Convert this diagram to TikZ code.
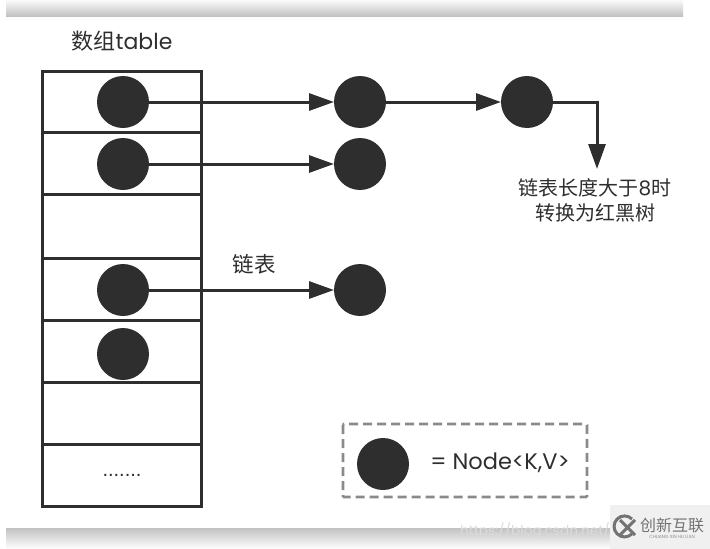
\documentclass[tikz,border=0pt]{standalone}
\usepackage{fontspec}
\usepackage{xcolor}
\setmainfont{Poppins}
\newfontfamily\cjk{Noto Sans CJK SC}
\newfontfamily\dotfont{Liberation Sans}
\usetikzlibrary{arrows.meta,positioning}
\definecolor{inkdark}{HTML}{2E2E2E}
\definecolor{dashgray}{HTML}{8A8A8A}
\tikzset{
    slotbox/.style={draw=inkdark, line width=3pt, minimum width=159pt, inner sep=0pt, outer sep=0pt},
    entrydot/.style={circle, fill=inkdark, minimum size=52pt, inner sep=0pt, outer sep=0pt},
    linkarrow/.style={draw=inkdark, line width=3pt, -{Triangle[length=25pt,width=17pt]}},
    caption/.style={text=inkdark, font=\fontsize{20}{25}\selectfont\cjk, align=center, inner sep=0pt},
    plainlabel/.style={text=inkdark, font=\fontsize{22.5}{26}\selectfont\rmfamily, inner sep=0pt},
}
\begin{document}
\begin{tikzpicture}[x=1pt,y=-1pt]
    \useasboundingbox (0,0) rectangle (710,549);
    % page shadows
    \shade[top color=black!2, middle color=black!6, bottom color=black!24] (6,0) rectangle (683,16);
    \shade[top color=black!24, middle color=black!6, bottom color=white] (6,528) rectangle (683,549);
    % table slots
    \foreach \name/\ytop/\ybot in {a/71/132, b/132/194, c/194/258, d/258/320, e/320/382, f/382/444, g/444/506} {
        \node[slotbox, minimum height={\ybot-\ytop}, anchor=north west] (slot\name) at (42,\ytop) {};
    }
    \node[caption, font=\fontsize{22}{25}\selectfont\cjk] (tabletitle) at (122,41) {数组{\rmfamily table}};
    \node[plainlabel, font=\fontsize{20}{24}\selectfont\dotfont] (dots) at (122,475) {.......};
    % entries
    \node[entrydot] (ea) at (123,102) {};
    \node[entrydot] (eb) at (123,164) {};
    \node[entrydot] (ed) at (123,290) {};
    \node[entrydot] (ee) at (123,354) {};
    \node[entrydot] (na) at (360,102) {};
    \node[entrydot] (nb) at (360,164) {};
    \node[entrydot] (nd) at (360,290) {};
    \node[entrydot] (nc) at (527,102) {};
    \coordinate (treetip) at (597,169);
    % links
    \draw[linkarrow] (ea) -- (na);
    \draw[linkarrow] (eb) -- (nb);
    \draw[linkarrow] (ed) -- (nd);
    \draw[linkarrow] (na) -- (nc);
    \draw[linkarrow] (nc) -| (treetip);
    \node[caption] (treenote) at (595,200) {链表长度大于{\rmfamily 8}时\\转换为红黑树};
    \node[caption, font=\fontsize{21.5}{25}\selectfont\cjk] (listnote) at (254,264) {链表};
    % legend
    \draw[dashgray, line width=2.6pt, dash pattern=on 9pt off 5pt, rounded corners=1pt] (343,424) rectangle (587,497);
    \node[entrydot] (legenddot) at (383,464) {};
    \node[plainlabel] (legendtext) at (500,463) {= Node<K,V>};
    % watermark
    \node[text=black!14, font=\fontsize{13.7}{18}\selectfont\rmfamily, inner sep=0pt, anchor=east] (urlmark) at (610,531) {https://blog.csdn.net/};
    \fill[black!6] (610,505) rectangle (710,549);
    \draw[black!55, line width=3pt] (632,519) arc (-45:-315:10.5);
    \draw[black!55, line width=3pt] (620,520) -- (635,535) (620,535) -- (635,520);
    \node[text=black!55, font=\fontsize{16}{18}\selectfont\cjk, inner sep=0pt] (brandmark) at (672,525) {创新互联};
    \node[text=black!45, font=\fontsize{4.5}{5}\selectfont\rmfamily, inner sep=0pt, below=2pt of brandmark] (brandsub) {CHUANG XIN HU LIAN};
\end{tikzpicture}
\end{document}
